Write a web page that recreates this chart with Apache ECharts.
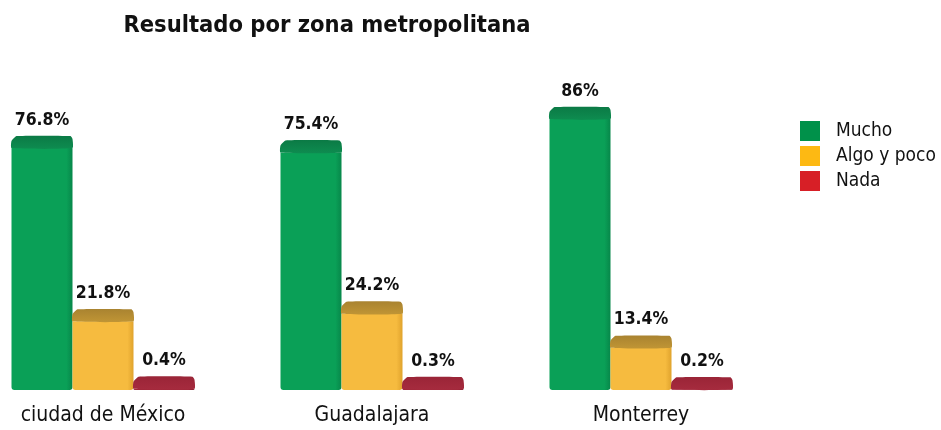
<!DOCTYPE html>
<html>
<head>
<meta charset="utf-8">
<script src="https://cdn.jsdelivr.net/npm/echarts@6/dist/echarts.min.js"></script>
<style>
  html, body { margin: 0; padding: 0; background: #ffffff; }
  #chart { width: 941px; height: 430px; }
</style>
</head>
<body>
<div id="chart"></div>
<script>
// Survey answers per metropolitan area (percent)
const zonas = ['ciudad de México', 'Guadalajara', 'Monterrey'];
const mucho = [76.8, 75.4, 86];
const algoYPoco = [21.8, 24.2, 13.4];
const nada = [0.4, 0.3, 0.2];

const FONT = '"DejaVu Sans Condensed", "Noto Sans", sans-serif';

// Shades for each bar: front face, darker edge, lid
const shades = [
  { front: '#0aa057', edge: '#07874a', lid: '#0b7a45', lidLight: '#0e8c50' },
  { front: '#f6bb3f', edge: '#e0a32d', lid: '#a98330', lidLight: '#c09535' },
  { front: '#a1283a', edge: '#8c1f30', lid: '#9a2537', lidLight: '#a62b3e' }
];

const BAR_W = 61;
const LID_H = 12;

function makeRender(idx) {
  return function (params, api) {
    const cat = api.value(0);
    const v = api.value(1);
    const base = api.coord([cat, 0]);
    const topPt = api.coord([cat, v]);
    const x = base[0] + (idx - 1) * BAR_W - BAR_W / 2;
    const yTop = topPt[1];
    const yBase = base[1];
    const s = shades[idx];
    const children = [];
    // front face
    if (yBase - yTop > 0.5) {
      children.push({
        type: 'rect',
        shape: { x: x, y: yTop, width: BAR_W, height: yBase - yTop, r: [0, 0, 3, 3] },
        style: {
          fill: {
            type: 'linear', x: 0, y: 0, x2: 1, y2: 0,
            colorStops: [
              { offset: 0, color: s.front },
              { offset: 0.9, color: s.front },
              { offset: 1, color: s.edge }
            ]
          }
        }
      });
    }
    // lid on top of the bar
    children.push({
      type: 'polygon',
      shape: {
        points: [
          [x + 5, yTop - LID_H],
          [x + BAR_W - 2, yTop - LID_H],
          [x + BAR_W, yTop - LID_H + 3],
          [x + BAR_W, yTop],
          [x, yTop],
          [x, yTop - LID_H + 5]
        ],
        smooth: 0.15
      },
      style: {
        fill: {
          type: 'linear', x: 0, y: 0, x2: 0, y2: 1,
          colorStops: [
            { offset: 0, color: s.lid },
            { offset: 1, color: s.lidLight }
          ]
        }
      }
    });
    // value label
    children.push({
      type: 'text',
      style: {
        text: v + '%',
        x: x + BAR_W / 2,
        y: yTop - LID_H - 7,
        align: 'center',
        verticalAlign: 'bottom',
        font: 'bold 17.5px ' + FONT,
        fill: '#111111'
      }
    });
    return { type: 'group', children: children };
  };
}

function seriesData(values) {
  return values.map((v, i) => [i, v]);
}

const chart = echarts.init(document.getElementById('chart'));
chart.setOption({
  animation: false,
  title: {
    text: 'Resultado por zona metropolitana',
    left: 322,
    textAlign: 'center',
    top: 9,
    textStyle: { fontFamily: FONT, fontWeight: 'bold', fontSize: 23.5, color: '#111111' }
  },
  legend: {
    orient: 'vertical',
    left: 800,
    top: 121,
    padding: 0,
    icon: 'rect',
    itemWidth: 20,
    itemHeight: 20,
    itemGap: 5,
    textStyle: { fontFamily: FONT, fontSize: 19, color: '#111111', padding: [0, 0, 0, 11] },
    data: ['Mucho', 'Algo y poco', 'Nada']
  },
  // category ticks sit on the grid edges, so the outer groups centre on left/right
  grid: { left: 103, right: 300, top: 75, bottom: 40 },
  xAxis: {
    type: 'category',
    data: zonas,
    boundaryGap: false,
    axisLine: { show: false },
    axisTick: { show: false },
    axisLabel: { fontFamily: FONT, fontSize: 21, color: '#111111', margin: 15 }
  },
  yAxis: { type: 'value', min: 0, max: 100, show: false, splitLine: { show: false } },
  series: [
    { name: 'Mucho', type: 'custom', renderItem: makeRender(0), itemStyle: { color: '#00914a' }, data: seriesData(mucho), encode: { x: 0, y: 1 } },
    { name: 'Algo y poco', type: 'custom', renderItem: makeRender(1), itemStyle: { color: '#fdb913' }, data: seriesData(algoYPoco), encode: { x: 0, y: 1 } },
    { name: 'Nada', type: 'custom', renderItem: makeRender(2), itemStyle: { color: '#d71f26' }, data: seriesData(nada), encode: { x: 0, y: 1 } }
  ]
});
</script>
</body>
</html>
